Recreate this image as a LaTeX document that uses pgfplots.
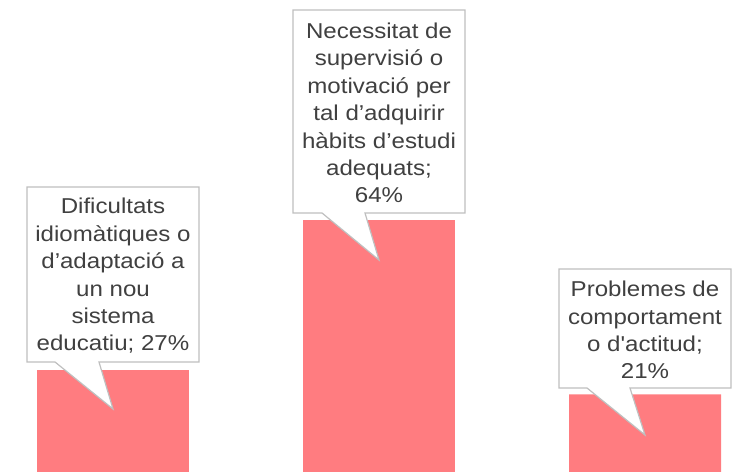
\documentclass[border=0pt]{standalone}
\usepackage{pgfplots}
\pgfplotsset{compat=1.18}
\usepackage{fontspec}
\setmainfont{Liberation Sans}
\newfontfamily\lblfont[FakeStretch=1.12]{Liberation Sans}
\definecolor{barcol}{HTML}{FF7C80}
\definecolor{txtcol}{HTML}{404040}
\definecolor{boxcol}{HTML}{BFBFBF}
\begin{document}
\begin{tikzpicture}
\begin{axis}[
  at={(0,0)}, anchor=south west,
  width=744bp, height=472bp, scale only axis,
  hide axis,
  xmin=-0.4248, xmax=2.3722,
  ymin=1.85, ymax=118.3,
  ybar, bar width=0.5714,
]
\addplot[fill=barcol, draw=none] coordinates {(0,27) (1,64) (2,21)};
\end{axis}
\path[use as bounding box] (0,0) rectangle (744bp,472bp);
\begin{scope}[shift={(0,472bp)}, x=1bp, y=-1bp]
  \tikzset{callout/.style={fill=white, draw=boxcol, line width=1.2bp, line join=miter}}
  \draw[callout] (27,187) -- (199,187) -- (199,362) -- (99,362) -- (113,409) -- (55,362) -- (27,362) -- cycle;
  \draw[callout] (293,10) -- (465,10) -- (465,213) -- (365,213) -- (379,260) -- (322,213) -- (293,213) -- cycle;
  \draw[callout] (559,269) -- (731,269) -- (731,388) -- (630,388) -- (645,435) -- (587,388) -- (559,388) -- cycle;
  \tikzset{lbl/.style={text=txtcol, align=center, inner sep=0pt, font=\lblfont\fontsize{21.5bp}{27.4bp}\selectfont}}
  \node[lbl] at (113,276) {Dificultats\\idiomàtiques o\\d’adaptació a\\un nou\\sistema\\educatiu; 27\%};
  \node[lbl] at (379,113) {Necessitat de\\supervisió o\\motivació per\\tal d’adquirir\\hàbits d’estudi\\adequats;\\64\%};
  \node[lbl] at (645,330) {Problemes de\\comportament\\o d{\char"0027}actitud;\\21\%};
\end{scope}
\end{tikzpicture}
\end{document}
